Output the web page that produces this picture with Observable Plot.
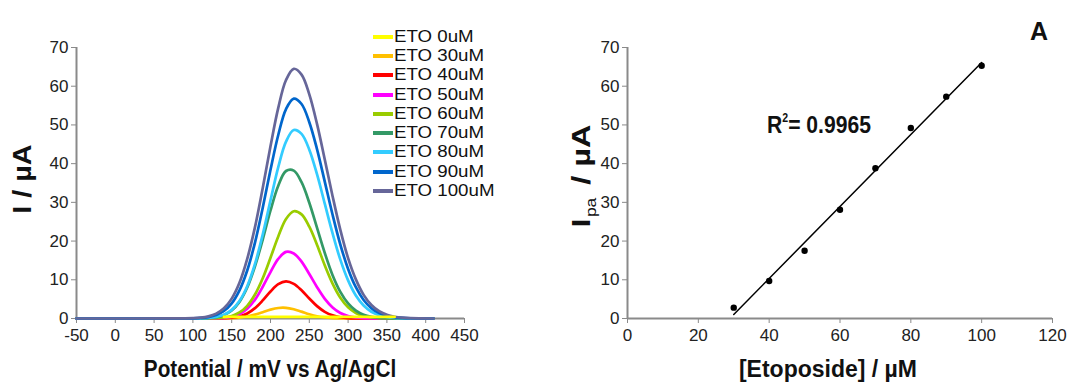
<!DOCTYPE html>
<html>
<head>
<meta charset="utf-8">
<script src="https://cdn.jsdelivr.net/npm/d3@7"></script>
<script src="https://cdn.jsdelivr.net/npm/@observablehq/plot@0.6"></script>
<style>
  body { margin: 0; background: #fff; font-family: "Liberation Sans", Arial, sans-serif; }
  #wrap { position: relative; width: 1073px; height: 383px; overflow: hidden; background: #fff; }
  #wrap svg { position: absolute; top: 0; }
  .lbl { position: absolute; white-space: nowrap; color: #111; font-weight: bold; line-height: 1; }
  #legend { position: absolute; left: 373px; top: 27px; font-size: 17px; color: #111; }
  #legend .row { height: 19.3px; display: flex; align-items: center; }
  #legend .sw { width: 20px; height: 4px; margin-right: 1px; }
  #legend .tx { display: inline-block; transform: scaleX(1.1); transform-origin: left center; }
</style>
</head>
<body>
<div id="wrap"></div>
<script>
// ---------- Left panel data (DPV curves) ----------
const potentials = [-50, 80, 90, 100, 110, 120, 130, 140, 150, 160, 170, 180, 190, 200, 210, 220, 230, 240, 250, 260, 270, 280, 290, 300, 310, 320, 330, 340, 350, 360, 370, 380, 410];
const seriesNames = ["ETO 0uM", "ETO 30uM", "ETO 40uM", "ETO 50uM", "ETO 60uM", "ETO 70uM", "ETO 80uM", "ETO 90uM", "ETO 100uM"];
const seriesColors = ["#ffff00", "#ffc000", "#ff0000", "#ff00ff", "#99cc00", "#339966", "#33ccff", "#0066cc", "#666699"];
const eto0   = [null, null,null,null,null,null,null, 0.4,0.4,0.4,0.4,0.4,0.4,0.4,0.4,0.4,0.4,0.4,0.4,0.4,0.4,0.4,0.4,0.4,0.4,0.4,0.4,0.4,0.4,0.4, null,null, null];
const eto30  = [0, 0,0,0,0,0,0, 0.03,0.09,0.23,0.52,0.99,1.63,2.28,2.72,2.76,2.39,1.77,1.11,0.59,0.27,0.11,0.04, 0,0,0,0,0,0,0,0,0, 0];
const eto40  = [0, 0,0,0,0,0, 0.01,0.06,0.19,0.54,1.30,2.67,4.67,6.97,8.86,9.6,8.96,7.30,5.18,3.20,1.73,0.81,0.33,0.12,0.04, 0,0,0,0,0,0,0, 0];
const eto50  = [0, 0,0,0,0,0.01,0.05,0.15,0.45,1.14,2.52,4.87,8.20,12.0,15.4,17.2,16.8,14.7,11.5,8.09,5.07,2.85,1.43,0.64,0.26,0.09,0.03,0,0,0,0,0, 0];
const eto60  = [0, 0,0,0,0.01,0.03,0.09,0.25,0.66,1.56,3.28,6.19,10.4,15.7,21.2,25.7,27.7,26.9,23.7,19.0,13.7,9.03,5.38,2.91,1.43,0.63,0.26,0.09,0.03,0.01,0,0, 0];
const eto70  = [0, 0,0,0.01,0.04,0.12,0.35,0.90,2.07,4.29,8.00,13.5,20.4,27.9,34.3,38.1,38.2,35.2,29.9,23.4,16.9,11.2,6.88,3.89,2.02,0.97,0.43,0.17,0.07,0.02,0.01,0, 0];
const eto80  = [0, 0,0,0.01,0.05,0.15,0.41,1.00,2.23,4.52,8.35,14.1,21.7,30.5,39.1,45.7,48.7,47.7,43.6,37.2,29.6,22.0,15.2,9.84,5.93,3.34,1.75,0.86,0.39,0.17,0.07,0.02, 0];
const eto90  = [0, 0.01,0.02,0.05,0.14,0.37,0.88,1.93,3.90,7.26,12.4,19.6,28.6,38.4,47.4,54.1,56.8,55.4,50.7,43.7,35.3,26.8,19.1,12.8,8.08,4.78,2.66,1.39,0.68,0.31,0.14,0.06, 0];
const eto100 = [0, 0.01,0.03,0.09,0.23,0.56,1.26,2.64,5.13,9.22,15.4,23.6,33.7,44.5,54.4,61.6,64.5,63.0,57.9,50.2,41.0,31.6,22.9,15.6,10.1,6.11,3.50,1.88,0.95,0.46,0.21,0.09, 0];
const seriesValues = [eto0, eto30, eto40, eto50, eto60, eto70, eto80, eto90, eto100];
const leftXTicks = [-50, 0, 50, 100, 150, 200, 250, 300, 350, 400, 450];
const currentTicks = [0, 10, 20, 30, 40, 50, 60, 70];

// ---------- Right panel data (calibration) ----------
const concentrations = [30, 40, 50, 60, 70, 80, 90, 100];
const peakCurrents = [2.8, 9.7, 17.5, 28.1, 38.8, 49.2, 57.3, 65.3];
const rightXTicks = [0, 20, 40, 60, 80, 100, 120];

const font = "'Liberation Sans', Arial, sans-serif";
const axisGray = "#8a8a8a";
const textColor = "#222";

// long table; draw order: 30..100 then 0 on top
const drawOrder = [1, 2, 3, 4, 5, 6, 7, 8, 0];
const curveRows = [];
for (const si of drawOrder) {
  potentials.forEach((p, i) => {
    curveRows.push({ series: seriesNames[si], x: p, y: seriesValues[si][i] });
  });
}
const colorOf = Object.fromEntries(seriesNames.map((n, i) => [n, seriesColors[i]]));

const wrap = document.getElementById("wrap");

const left = Plot.plot({
  width: 540, height: 383,
  marginLeft: 76, marginRight: 76, marginTop: 47, marginBottom: 65,
  style: { fontFamily: font, fontSize: "17px", color: textColor, background: "transparent", overflow: "visible" },
  x: { domain: [-50, 450], label: null },
  y: { domain: [0, 70], label: null },
  marks: [
    Plot.axisX({ ticks: leftXTicks, tickFormat: d => String(d), tickSize: 5, tickPadding: 5, stroke: axisGray, fill: textColor, fontSize: 17, label: null }),
    Plot.axisY({ ticks: currentTicks, tickFormat: d => String(d), tickSize: 5, tickPadding: 3, stroke: axisGray, fill: textColor, fontSize: 17, label: null }),
    Plot.ruleY([0], { stroke: axisGray, strokeWidth: 2 }),
    Plot.ruleX([-50], { stroke: axisGray, strokeWidth: 2 }),
    Plot.line(curveRows.filter(d => d.y != null), {
      x: "x", y: "y", z: "series",
      stroke: d => colorOf[d.series],
      strokeWidth: 2.7, curve: "catmull-rom"
    })
  ]
});
left.style.left = "0px";
wrap.appendChild(left);

const calib = concentrations.map((c, i) => ({ x: c, y: peakCurrents[i] }));
const regression = Plot.linearRegressionY || Plot.linearY;
const right = Plot.plot({
  width: 533, height: 383,
  marginLeft: 87, marginRight: 21, marginTop: 47, marginBottom: 65,
  style: { fontFamily: font, fontSize: "17px", color: textColor, background: "transparent", overflow: "visible" },
  x: { domain: [0, 120], label: null },
  y: { domain: [0, 70], label: null },
  marks: [
    Plot.axisX({ ticks: rightXTicks, tickFormat: d => String(d), tickSize: 5, tickPadding: 5, stroke: axisGray, fill: textColor, fontSize: 17, label: null }),
    Plot.axisY({ ticks: currentTicks, tickFormat: d => String(d), tickSize: 5, tickPadding: 3, stroke: axisGray, fill: textColor, fontSize: 17, label: null }),
    Plot.ruleY([0], { stroke: axisGray, strokeWidth: 2 }),
    Plot.ruleX([0], { stroke: axisGray, strokeWidth: 2 }),
    regression(calib, { x: "x", y: "y", stroke: "#000", strokeWidth: 1.5, ci: 0 }),
    Plot.dot(calib, { x: "x", y: "y", r: 3.2, fill: "#000" })
  ]
});
right.style.left = "540px";
wrap.appendChild(right);

// legend
const legend = document.createElement("div");
legend.id = "legend";
seriesNames.forEach((n, i) => {
  const row = document.createElement("div");
  row.className = "row";
  row.innerHTML = `<span class="sw" style="background:${seriesColors[i]}"></span><span class="tx">${n}</span>`;
  legend.appendChild(row);
});
wrap.appendChild(legend);

function addLabel(html, x, y, size, transform) {
  const d = document.createElement("div");
  d.className = "lbl";
  d.style.left = x + "px";
  d.style.top = y + "px";
  d.style.fontSize = size + "px";
  d.style.transform = "translate(-50%, -50%) " + (transform || "");
  d.innerHTML = html;
  wrap.appendChild(d);
}
addLabel("I / µA", 22, 179, 25, "rotate(-90deg) scaleX(1.15)");
addLabel("I<span style='font-size:14px;font-weight:normal;position:relative;top:6px;padding:0 3px 0 1px'>pa</span> / µA", 581, 176, 26, "rotate(-90deg) scaleX(1.25)");
addLabel("Potential / mV vs Ag/AgCl", 270, 369, 23, "scaleX(0.9)");
addLabel("[Etoposide] / µM", 828, 369, 23, "");
addLabel("R<sup style='font-size:12px;vertical-align:11px'>2</sup>= 0.9965", 819, 124, 24, "scaleX(0.88)");
addLabel("A", 1039, 31, 25, "");
</script>
</body>
</html>
